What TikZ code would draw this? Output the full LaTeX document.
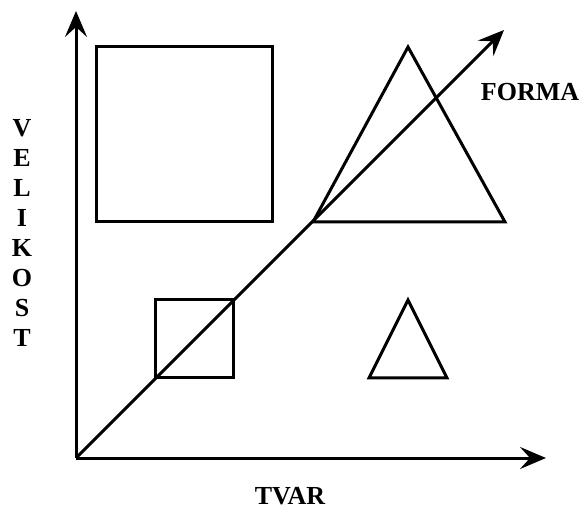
\documentclass[tikz,border=0pt]{standalone}
\usepackage{fontspec}
\setmainfont{Liberation Serif}
\usetikzlibrary{arrows.meta}
\tikzset{
  axis/.style={line width=3pt, -{Stealth[length=26pt,width=22pt,inset=10pt]}},
  figline/.style={line width=3pt, line join=miter},
  lab/.style={font=\fontsize{26}{30}\selectfont\bfseries, inner sep=0pt}
}

\begin{document}
\begin{tikzpicture}[x=1pt, y=-1pt]
        \useasboundingbox (0,0) rectangle (581,510);
        \coordinate (O) at (76,458);
        \coordinate (ytop) at (76,11);
        \coordinate (xend) at (546,458);
        \coordinate (dend) at (504,30);
        % shapes
        \draw[figline] (96,47) rectangle (272,222);
        \draw[figline] (155,300) rectangle (233,378);
        \draw[figline] (408,47) -- (505,222) -- (313,222) -- cycle;
        \draw[figline] (408,300) -- (447,378) -- (369,378) -- cycle;
        % axes
        \draw[axis] (O) -- (ytop);
        \draw[axis] (O) -- (xend);
        \draw[axis] (O) -- (dend);
        \node[lab] (forma) at (530,92) {FORMA};
        \node[lab] (tvar) at (290,496) {TVAR};
        \foreach \l [count=\i from 0] in {V,E,L,I,K,O,S,T}{
          \node[lab] (v\i) at (22,128+\i*30) {\l};
        }
      \end{tikzpicture}
\end{document}
